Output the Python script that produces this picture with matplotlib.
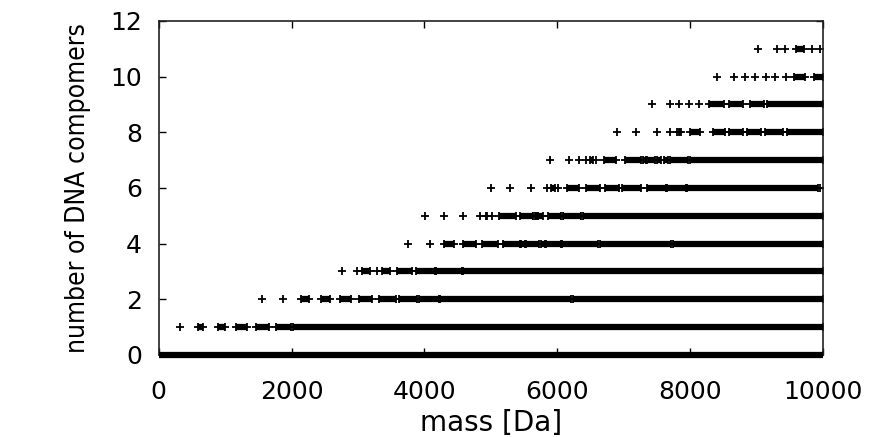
import matplotlib
matplotlib.use('Agg')
import matplotlib.pyplot as plt

# compomer masses per row (number of compomers), single '+' marks and dense runs
marks = {
    1: [316],
    2: [1561, 1873],
    3: [2763, 2990, 3290],
    4: [3755, 4081],
    5: [4006, 4292, 4583, 4840, 5020],
    6: [4995, 5296, 5598, 5850, 6010, 9960],
    7: [5888, 6170, 6330, 6440, 6590],
    8: [6893, 7183, 7495, 7700, 7800],
    9: [7420, 7700, 7840, 7990, 8140],
    10: [8400, 8665, 8820, 8980, 9145, 9280, 9445],
    11: [9025, 9305, 9425, 9830, 9950],
}
runs = {
    0: [(0, 10000)],
    1: [(590, 670), (890, 995), (1160, 1325), (1460, 1665), (1760, 1995), (2025, 10000)],
    2: [(2140, 2255), (2440, 2585), (2730, 2895), (3020, 3210), (3320, 3575),
        (3620, 3885), (3925, 4215), (4240, 6200), (6230, 10000)],
    3: [(3060, 3180), (3360, 3480), (3590, 3820), (3875, 4155), (4175, 4560), (4585, 10000)],
    4: [(4290, 4450), (4575, 4780), (4860, 5105), (5180, 5440), (5460, 5520), (5535, 5725),
        (5750, 5810), (5830, 6050), (6070, 6615), (6640, 7720), (7750, 10000)],
    5: [(4925, 4945), (5130, 5380), (5440, 5640), (5660, 5700), (5715, 5780), (5865, 6060),
        (6090, 6365), (6390, 10000)],
    6: [(5900, 5960), (6150, 6330), (6430, 6640), (6720, 6935), (6975, 7260), (7345, 7630),
        (7660, 7935), (7960, 9930)],
    7: [(6500, 6540), (6700, 6890), (7020, 7265), (7290, 7340), (7350, 7470), (7500, 7560),
        (7600, 7670), (7700, 7970), (8000, 10000)],
    8: [(7830, 7870), (8000, 8145), (8350, 8520), (8580, 8800), (8855, 9075), (9130, 9400),
        (9455, 10000)],
    9: [(8280, 8510), (8580, 8800), (8905, 9120), (9155, 10000)],
    10: [(9560, 9725), (9860, 10000)],
    11: [(9600, 9720)],
}
xticks = [0, 2000, 4000, 6000, 8000, 10000]
yticks = [0, 2, 4, 6, 8, 10, 12]

fig = plt.figure(figsize=(8.82, 4.37), dpi=100)
ax = fig.add_axes([0.180, 0.188, 0.753, 0.764])

for k, pts in marks.items():
    ax.plot(pts, [k] * len(pts), '+', color='black', ms=5.5, mew=1.3)

for k, segs in runs.items():
    for a, b in segs:
        ax.hlines(k, a, b, color='black', lw=4.5, capstyle='butt',
                  clip_on=(k != 0), zorder=3)
        # horizontal arms of the end markers
        ax.plot([a, b], [k, k], '+', color='black', ms=5.5, mew=1.3)

ax.set_xlim(0, 10000)
ax.set_ylim(0, 12)
ax.set_xticks(xticks)
ax.set_yticks(yticks)
ax.tick_params(direction='in', length=5, width=1, top=True, right=True,
               labelsize=18, pad=12)
ax.tick_params(axis='x', pad=18)
for s in ax.spines.values():
    s.set_linewidth(1.2)
    s.set_color('#222222')

ax.set_xlabel('mass [Da]', fontsize=20, labelpad=4)
ax.set_ylabel('number of DNA compomers', fontsize=19, labelpad=14,
              family=['Liberation Sans Narrow', 'DejaVu Sans'], stretch='condensed')

fig.savefig('out.png', dpi=100)
